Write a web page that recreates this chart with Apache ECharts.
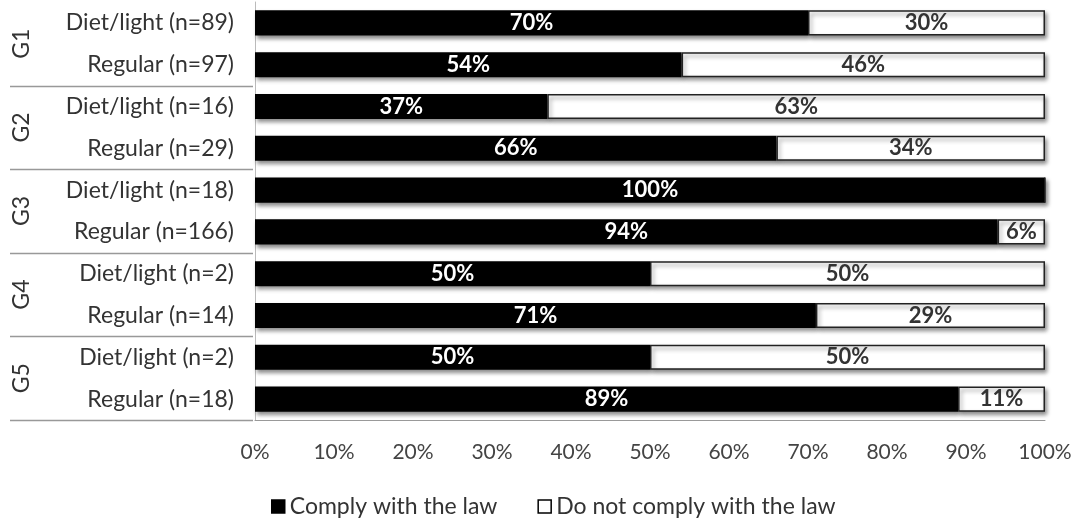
<!DOCTYPE html>
<html>
<head>
<meta charset="utf-8">
<script src="https://cdn.jsdelivr.net/npm/echarts@6/dist/echarts.min.js"></script>
<style>
  html, body { margin: 0; padding: 0; background: #fff; }
  #chart { width: 1078px; height: 519px; }
</style>
</head>
<body>
<div id="chart"></div>
<script>
// Beverage type by group, with sample sizes
const categories = [
  'Diet/light (n=89)', 'Regular (n=97)',
  'Diet/light (n=16)', 'Regular (n=29)',
  'Diet/light (n=18)', 'Regular (n=166)',
  'Diet/light (n=2)', 'Regular (n=14)',
  'Diet/light (n=2)', 'Regular (n=18)'
];
const groups = ['G1', 'G2', 'G3', 'G4', 'G5'];
// Percentages per category
const comply = [70, 54, 37, 66, 100, 94, 50, 71, 50, 89];
const notComply = [30, 46, 63, 34, 0, 6, 50, 29, 50, 11];
const xTicks = [0, 10, 20, 30, 40, 50, 60, 70, 80, 90, 100];

const FONT = 'Lato, "Open Sans", sans-serif';
const shadow = { shadowColor: 'rgba(0,0,0,0.45)', shadowBlur: 4, shadowOffsetX: 2, shadowOffsetY: 3 };

const chart = echarts.init(document.getElementById('chart'));
chart.setOption({
  animation: false,
  textStyle: { fontFamily: FONT },
  grid: { left: 255, right: 33, top: 2, bottom: 99 },
  legend: {
    left: 266, top: 490,
    icon: 'rect',
    itemWidth: 13, itemHeight: 13, itemGap: 40,
    textStyle: { fontSize: 23, color: '#333', fontFamily: FONT },
    data: [
      { name: 'Comply with the law', itemStyle: { color: '#000', borderColor: '#000', borderWidth: 1.5, shadowBlur: 0, shadowOffsetX: 0, shadowOffsetY: 0 } },
      { name: 'Do not comply with the law', itemStyle: { color: '#fff', borderColor: '#000', borderWidth: 1.5, shadowBlur: 0, shadowOffsetX: 0, shadowOffsetY: 0 } }
    ]
  },
  xAxis: {
    type: 'value', min: xTicks[0], max: xTicks[xTicks.length - 1], interval: 10,
    axisLine: { show: true, lineStyle: { color: '#999', width: 1 } },
    axisTick: { show: false },
    splitLine: { show: false },
    axisLabel: { formatter: '{value}%', fontSize: 21, color: '#444', margin: 22 }
  },
  yAxis: [
    {
      type: 'category', data: categories, inverse: true,
      axisLine: { show: true, lineStyle: { color: '#bbb', width: 1 } },
      axisTick: { show: false },
      axisLabel: { fontSize: 23, color: '#333', margin: 21 }
    },
    {
      type: 'category', data: groups, inverse: true, position: 'left', offset: 220,
      axisLine: { show: false }, axisTick: { show: false },
      axisLabel: { rotate: 90, fontSize: 23, color: '#333', margin: 2 }
    }
  ],
  series: [
    {
      name: 'Comply with the law', type: 'bar', stack: 'total', yAxisIndex: 0,
      data: comply, barCategoryGap: '40%',
      itemStyle: Object.assign({ color: '#000', borderColor: '#000', borderWidth: 1.5 }, shadow),
      label: {
        show: true, position: 'inside', color: '#fff', fontWeight: 'bold', fontSize: 22,
        formatter: p => p.value > 0 ? p.value + '%' : ''
      }
    },
    {
      name: 'Do not comply with the law', type: 'bar', stack: 'total', yAxisIndex: 0,
      data: notComply, barCategoryGap: '40%',
      itemStyle: Object.assign({ color: '#fff', borderColor: '#222', borderWidth: 1.5 }, shadow),
      label: {
        show: true, position: 'inside', color: '#333', fontWeight: 'bold', fontSize: 22,
        formatter: p => p.value > 0 ? p.value + '%' : ''
      }
    }
  ]
});

// Separator lines between groups, placed from the category scale
function drawSeparators() {
  const c0 = chart.convertToPixel({ yAxisIndex: 0 }, 0);
  const c1 = chart.convertToPixel({ yAxisIndex: 0 }, 1);
  const band = c1 - c0;
  const lines = [];
  for (let g = 1; g <= groups.length; g++) {
    const idx = g * 2 - 1;
    const y = Math.round(chart.convertToPixel({ yAxisIndex: 0 }, idx) + band / 2) + 0.5;
    lines.push({
      type: 'line', silent: true,
      shape: { x1: 10, y1: y, x2: 253, y2: y },
      style: { stroke: '#999', lineWidth: 1.5 }
    });
  }
  chart.setOption({ graphic: lines });
}
drawSeparators();
</script>
</body>
</html>
